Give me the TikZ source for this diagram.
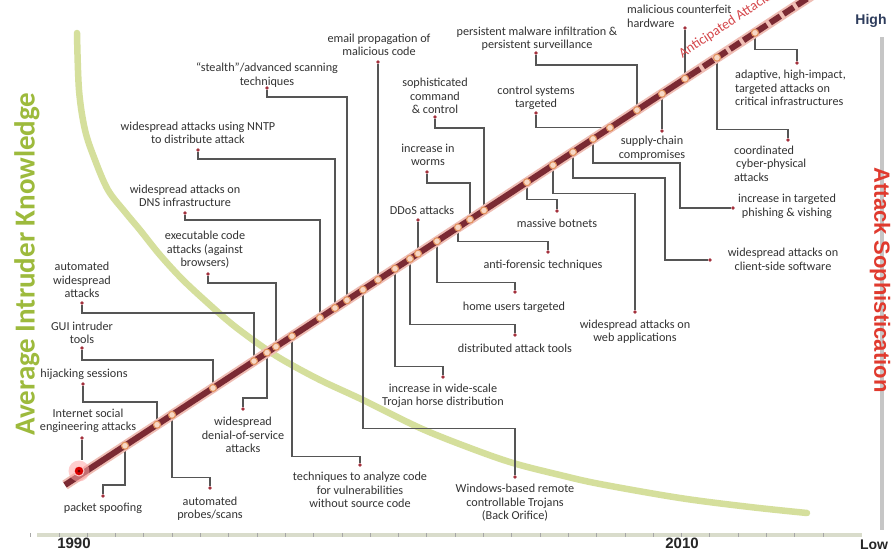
\documentclass[tikz,border=0pt]{standalone}
\usepackage{fontspec}
\setmainfont{Carlito}
\newfontfamily\axisfont{Liberation Sans}
\usetikzlibrary{calc}

\definecolor{labeltext}{HTML}{333333}
\definecolor{connline}{HTML}{555555}
\definecolor{tipred}{HTML}{A3303C}
\definecolor{trackcore}{HTML}{7B2A33}
\definecolor{trackhalo}{HTML}{EFBDB4}
\definecolor{evtring}{HTML}{E2925E}
\definecolor{evtfill}{HTML}{F7D8C6}
\definecolor{knowgreen}{HTML}{D5DF9C}
\definecolor{knowtext}{HTML}{9DBA3C}
\definecolor{sophred}{HTML}{E03A2E}
\definecolor{axisgray}{HTML}{C6C6C6}
\definecolor{timegray}{HTML}{D9DCCB}
\definecolor{highnavy}{HTML}{2D3C5C}
\definecolor{futurered}{HTML}{D5474B}

\begin{document}
\begin{tikzpicture}[x=1pt,y=-1pt,
  lbl/.style={font=\fontsize{12.2}{13.5}\selectfont, text=labeltext, align=center, inner sep=0pt},
  lbll/.style={lbl, align=left, anchor=west},
  conn/.style={draw=connline, line width=1.1pt},
  tip/.style={circle, fill=tipred, inner sep=0pt, minimum size=3.8pt},
  evt/.style={circle, draw=evtring, fill=evtfill, line width=1.1pt, inner sep=0pt, minimum size=7pt},
  axislbl/.style={font=\axisfont\bfseries\fontsize{14}{16}\selectfont, inner sep=0pt},
]
\useasboundingbox (0,0) rectangle (892,549);
\fill[white] (0,0) rectangle (892,549);

% ---------- axes ----------
\draw[timegray, line width=4.5pt] (37,535) -- (862,535);
\foreach \i in {1,...,29} {
  \draw[gray!70, line width=0.8pt] ({2.3+28.3*\i},533.2) -- ({2.3+28.3*\i},536.8);
}
\node[axislbl, text=black!85, font=\axisfont\bfseries\fontsize{15}{16}\selectfont] (y1990) at (74,543.5) {1990};
\node[axislbl, text=black!85, font=\axisfont\bfseries\fontsize{15}{16}\selectfont] (y2010) at (682,543.5) {2010};

\draw[axisgray, line width=3.5pt] (882,37) -- (882,530);
\node[axislbl, text=highnavy] (high) at (871,21) {High};
\node[axislbl, text=black!85] (low) at (874,544.5) {Low};
\node[font=\axisfont\bfseries\fontsize{22}{24}\selectfont, text=sophred, rotate=-90, inner sep=0pt]
  (soph) at (880,280) {Attack Sophistication};
\node[font=\bfseries\fontsize{29}{31}\selectfont, text=knowtext, rotate=90, inner sep=0pt]
  (know) at (27,264) {Average Intruder Knowledge};

% ---------- intruder knowledge curve ----------
\draw[knowgreen, line width=6.5pt, line cap=round] plot[smooth, tension=0.55] coordinates {
  (77,33) (79,90) (85,130) (95,160) (108,190) (125,212) (140,230) (160,255)
  (183,280) (210,305) (233,325) (260,345) (283,360) (320,380) (363,400)
  (420,428) (470,448) (513,463) (560,475) (600,484) (680,498) (750,507) (807,513)};

% ---------- points on the sophistication track ----------
\coordinate (trackA) at (65,485);
\coordinate (trackM) at (690,75.4);
\coordinate (trackB) at (815,-6.6);
\coordinate (p2) at (125,445.7);
\coordinate (p3) at (157,424.7);
\coordinate (p31) at (172,414.9);
\coordinate (p4) at (213,388.0);
\coordinate (p5) at (254,361.1);
\coordinate (p30) at (267,352.6);
\coordinate (p6) at (276,346.7);
\coordinate (p29) at (292,336.2);
\coordinate (p7) at (320,317.9);
\coordinate (p8) at (335,308.0);
\coordinate (p9) at (347,300.2);
\coordinate (p28) at (363,289.7);
\coordinate (p10) at (378,279.9);
\coordinate (p27) at (395,268.7);
\coordinate (p25) at (410,258.9);
\coordinate (p13) at (418,253.6);
\coordinate (p24) at (437,241.2);
\coordinate (p23) at (458,227.4);
\coordinate (p12) at (470,219.6);
\coordinate (p11) at (484,210.4);
\coordinate (p22) at (527,182.2);
\coordinate (p26) at (553,165.2);
\coordinate (p21) at (573,152.1);
\coordinate (p20) at (593,138.9);
\coordinate (p16) at (610,127.8);
\coordinate (p14) at (637,110.1);
\coordinate (p17) at (662,93.7);
\coordinate (p15) at (685,78.7);
\coordinate (p19) at (717,57.7);
\coordinate (p18) at (755,32.8);

% ---------- labels ----------
\node[lbl] (l1) at (88,421) {Internet social\\engineering attacks};
\node[lbl] (l2) at (103,508) {packet spoofing};
\node[lbl] (l3) at (84,374) {hijacking sessions};
\node[lbl] (l4) at (82,333) {GUI intruder\\tools};
\node[lbl] (l5) at (82,280) {automated\\widespread\\attacks};
\node[lbl] (l6) at (205,250) {executable code\\attacks (against\\browsers)};
\node[lbl] (l7) at (185,196) {widespread attacks on\\DNS infrastructure};
\node[lbl] (l8) at (198,133) {widespread attacks using NNTP\\to distribute attack};
\node[lbl] (l9) at (267,75) {``stealth''/advanced scanning\\techniques};
\node[lbl] (l10) at (379,45) {email propagation of\\malicious code};
\node[lbl] (l11) at (435,96) {sophisticated\\command\\\& control};
\node[lbl] (l12) at (428,155) {increase in\\worms};
\node[lbl] (l13) at (422,210) {DDoS attacks};
\node[lbl] (l14) at (537,38.5) {persistent malware infiltration \&\\persistent surveillance};
\node[lbll] (l15) at (627,16.5) {malicious counterfeit\\hardware};
\node[lbl] (l16) at (536,98) {control systems\\targeted};
\node[lbl] (l17) at (652,148) {supply-chain\\compromises};
\node[lbll] (l18) at (735,88) {adaptive, high-impact,\\targeted attacks on\\critical infrastructures};
\node[lbll] (l19) at (734,163.5) {coordinated\\\hspace{2pt}cyber-physical\\attacks};
\node[lbl] (l20) at (787,206.5) {increase in targeted\\phishing \& vishing};
\node[lbl] (l21) at (783,259.5) {widespread attacks on\\client-side software};
\node[lbl] (l22) at (557,223) {massive botnets};
\node[lbl] (l23) at (543,265) {anti-forensic techniques};
\node[lbl] (l24) at (514,307) {home users targeted};
\node[lbl] (l25) at (515,348) {distributed attack tools};
\node[lbl] (l26) at (635,331.5) {widespread attacks on\\web applications};
\node[lbl] (l27) at (443,396) {increase in wide-scale\\Trojan horse distribution};
\node[lbl] (l28) at (515,503) {Windows-based remote\\controllable Trojans\\(Back Orifice)};
\node[lbl] (l29) at (360,490) {techniques to analyze code\\for vulnerabilities\\without source code};
\node[lbl] (l30) at (243,435) {widespread\\denial-of-service\\attacks};
\node[lbl] (l31) at (210,508.5) {automated\\probes/scans};

% ---------- label tips ----------
\node[tip] (d1) at (82,438) {};
\node[tip] (d2) at (103,496) {};
\node[tip] (d3) at (83,384) {};
\node[tip] (d4) at (82,348) {};
\node[tip] (d5) at (82,303) {};
\node[tip] (d6) at (208,274) {};
\node[tip] (d7) at (185,213) {};
\node[tip] (d8) at (198,150) {};
\node[tip] (d9) at (267,88) {};
\node[tip] (d10) at (378,62) {};
\node[tip] (d11) at (435,117) {};
\node[tip] (d12) at (427,172) {};
\node[tip] (d13) at (418,220) {};
\node[tip] (d14) at (536,53) {};
\node[tip] (d15) at (685,28) {};
\node[tip] (d16) at (536,113) {};
\node[tip] (d17) at (662,131) {};
\node[tip] (d18) at (797,63) {};
\node[tip] (d19) at (788,140) {};
\node[tip] (d20) at (733,208) {};
\node[tip] (d21) at (710,260) {};
\node[tip] (d22) at (557,211) {};
\node[tip] (d23) at (548,252) {};
\node[tip] (d24) at (515,292) {};
\node[tip] (d25) at (515,335) {};
\node[tip] (d26) at (635,312) {};
\node[tip] (d27) at (443,377) {};
\node[tip] (d28) at (515,477) {};
\node[tip] (d29) at (360,465) {};
\node[tip] (d30) at (243,409) {};
\node[tip] (d31) at (210,488) {};

% ---------- connectors ----------
\coordinate (k20) at (680,163);
\coordinate (k21) at (665,178);
\begin{scope}[conn]
  \draw (d2) -- ++(0,-11) -| (p2);
  \draw (d3) -- ++(0,18) -| (p3);
  \draw (d4) -- ++(0,12) -| (p4);
  \draw (d5) -- ++(0,10) -| (p5);
  \draw (d6) -- ++(0,9) -| (p6);
  \draw (d7) -- ++(0,7) -| (p7);
  \draw (d8) -- ++(0,9) -| (p8);
  \draw (d9) -- ++(0,9) -| (p9);
  \draw (d10) -- (p10);
  \draw (d11) -- ++(0,11) -| (p11);
  \draw (d12) -- ++(0,11) -| (p12);
  \draw (d13) -- (p13);
  \draw (d14) -- ++(0,12) -| (p14);
  \draw (d15) -- (p15);
  \draw (d16) |- (p16);
  \draw (p17) -- (d17);
  \draw (p18) -- ++(0,17) -| (d18);
  \draw (p19) -- ++(0,72) -| (d19);
  \draw (p20) |- (k20) |- (d20);
  \draw (p21) |- (k21) |- (d21);
  \draw (p22) -- ++(0,17) -| (d22);
  \draw (p23) -- ++(0,14) -| (d23);
  \draw (p24) -- ++(0,41) -| (d24);
  \draw (p25) -- ++(0,66) -| (d25);
  \draw (p26) -- ++(0,28) -| (d26);
  \draw (p27) -- ++(0,98) -| (d27);
  \draw (p28) -- ++(0,139) -| (d28);
  \draw (p29) -- ++(0,120) -| (d29);
  \draw (d30) -- ++(0,-11) -| (p30);
  \draw (p31) -- ++(0,63) -| (d31);
\end{scope}

% ---------- sophistication track ----------
\draw[trackhalo, line width=10pt] (trackA) -- (trackB);
\draw[trackcore, line width=6pt] (trackA) -- (trackM);
\draw[trackcore, line width=6pt, dash pattern=on 12pt off 4pt] (trackM) -- (trackB);
\node[font=\fontsize{14}{16}\selectfont, text=futurered, rotate=33.4, inner sep=0pt]
  (future) at (726,25) {Anticipated Attacks};

\foreach \p in {p2,p3,p31,p4,p5,p30,p6,p29,p7,p8,p9,p28,p10,p27,p25,p13,p24,p23,p12,p11,
                p22,p26,p21,p20,p16,p14,p17,p15,p19,p18} {
  \node[evt] at (\p) {};
}

% highlighted first event
\node[circle, fill=red!35, fill opacity=0.55, inner sep=0pt, minimum size=21pt] (glow) at (79,471) {};
\node[circle, fill=red!85!black, draw=red!20, line width=1pt, inner sep=0pt, minimum size=10pt] (mk) at (79,471) {};
\node[circle, fill=red!40!black, inner sep=0pt, minimum size=3pt] at (mk) {};
\draw[conn] (d1) -- (d1 |- glow.north);
\end{tikzpicture}
\end{document}
